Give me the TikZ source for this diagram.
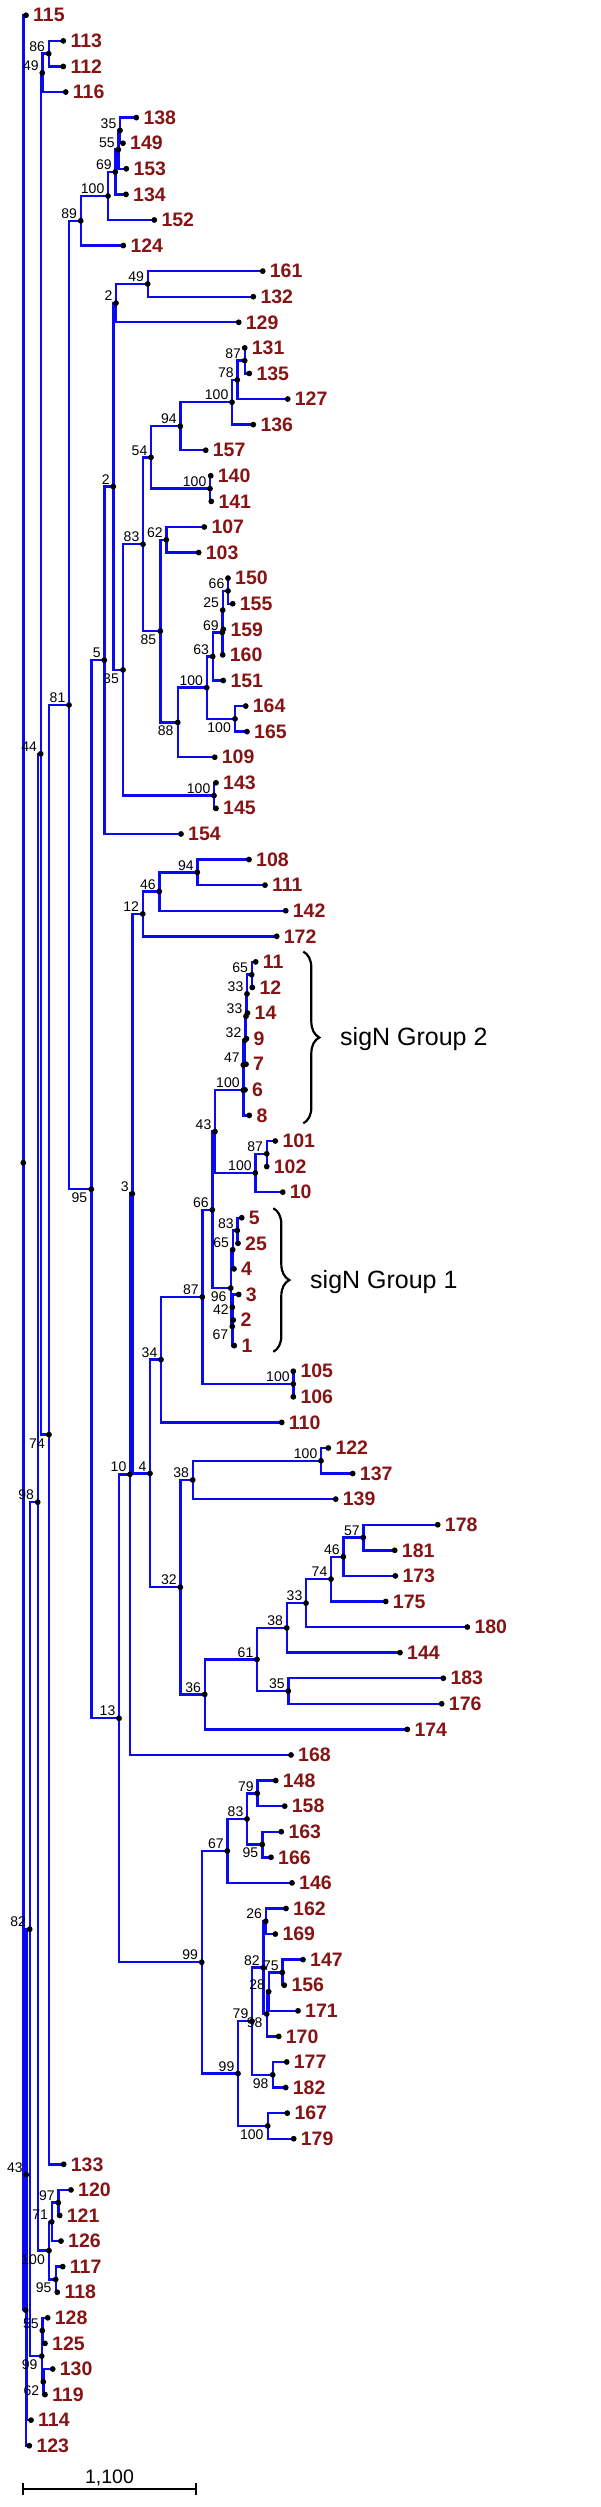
\documentclass[tikz,border=0pt]{standalone}
\usepackage{fontspec}
\setmainfont{Liberation Sans}
\usetikzlibrary{backgrounds,decorations.pathreplacing}
\definecolor{treeblue}{RGB}{10,10,240}
\definecolor{leafred}{RGB}{135,20,20}
\tikzset{
  branch/.style={draw=treeblue, line width=2.4pt},
  leafname/.style={anchor=west, inner sep=0pt, xshift=7pt, text=leafred, font=\bfseries\fontsize{19.5}{20}\selectfont},
  boot/.style={inner sep=0pt, font=\fontsize{14}{15}\selectfont},
  bootup/.style={boot, anchor=south east, xshift=-3.5pt, yshift=2pt},
  bootdown/.style={boot, anchor=north east, xshift=-4pt, yshift=-3.5pt},
  bootleft/.style={boot, anchor=east, xshift=-3.5pt, yshift=-2pt},
  groupbrace/.style={decorate, decoration={brace, amplitude=16pt}, line width=2.2pt},
  grouptext/.style={anchor=base west, inner sep=0pt, font=\fontsize{25}{26}\selectfont}
}
\begin{document}
\begin{tikzpicture}[x=1pt,y=-25.583pt]
\useasboundingbox (0,-0.598) rectangle (600,97.396);
% leaves: name / x / row
\foreach \n/\x/\i in {115/26/0, 113/63.3/1, 112/63.3/2, 116/65.7/3, 138/136.3/4, 149/123/5,
  153/126.3/6, 134/126/7, 152/154.3/8, 124/123.3/9, 161/262.7/10, 132/253.3/11, 129/238.7/12,
  131/244.7/13, 135/249.3/14, 127/287.7/15, 136/253.3/16, 157/205.7/17, 140/210.7/18,
  141/211.3/19, 107/204.3/20, 103/198.7/21, 150/228/22, 155/232.7/23, 159/223.3/24,
  160/222.7/25, 151/223.3/26, 164/245.7/27, 165/247/28, 109/214.7/29, 143/216/30, 145/216/31,
  154/181/32, 108/249/33, 111/265/34, 142/285.7/35, 172/276.7/36, 11/255.7/37, 12/252.3/38,
  14/247.5/39, 9/246.5/40, 7/246/41, 6/245/42, 8/249.3/43, 101/275.3/44, 102/266.7/45,
  10/282.7/46, 5/241.7/47, 25/238/48, 4/234/49, 3/238.7/50, 2/233.3/51, 1/234.3/52,
  105/293.3/53, 106/293.3/54, 110/281.7/55, 122/328.3/56, 137/352.7/57, 139/335.7/58,
  178/437.7/59, 181/394.7/60, 173/395.3/61, 175/385.7/62, 180/467.3/63, 144/400/64,
  183/443.3/65, 176/441.7/66, 174/407.3/67, 168/291/68, 148/275.7/69, 158/284.7/70,
  163/281.3/71, 166/271/72, 146/292/73, 162/286/74, 169/275.3/75, 147/303/76, 156/284.3/77,
  171/298/78, 170/278.7/79, 177/286.7/80, 182/285.7/81, 167/287.3/82, 179/293.7/83,
  133/63.7/84, 120/71/85, 121/59.7/86, 126/61/87, 117/62.7/88, 118/57.3/89, 128/47.7/90,
  125/45/91, 130/52.7/92, 119/45/93, 114/31/94, 123/29.3/95}{
  \coordinate (L\n) at (\x,\i);
  \fill (L\n) circle (2.9pt);
  \node[leafname] (T\n) at (L\n) {\n};
}
% inner nodes, support value above left
\foreach \n/\x/\y/\lab in {n86/48.7/1.5/86, n49a/42.3/2.25/49, n35a/120/4.5/35, n55a/118.3/5.25/55,
  n69a/115.3/6.125/69, n100a/108/7.0625/100, n89/80.7/8.031/89, n49b/147.7/10.5/49,
  n2a/116/11.25/2, n87a/244.7/13.5/87, n78/237.3/14.25/78, n100b/232/15.125/100,
  n94a/180.3/16.063/94, n100c/210/18.5/100, n54/151/17.281/54, n62a/166.3/20.5/62,
  n66a/228/22.5/66, n25/222.7/23.25/25, n69b/222.3/24.125/69, n63/212.7/25.063/63,
  n100e/206.7/26.281/100, n83a/143/20.676/83, n100f/214/30.5/100, n2b/113.3/18.419/2,
  n5/104.3/25.209/5, n94b/197.3/33.5/94, n46a/159.3/34.25/46, n12/142.7/35.125/12,
  n65a/251.7/37.5/65, n33a/247/38.25/33, n33b/246/39.125/33, n32a/245/40.063/32,
  n47/243.3/41.031/47, n100g/243.3/42.016/100, n87b/266.7/44.5/87, n100h/255.3/45.25/100,
  n43a/215/43.633/43, n83b/237.3/47.5/83, n65b/232.7/48.25/65, n66b/212.3/46.691/66,
  n100i/293.3/53.5/100, n87c/202.3/50.096/87, n34/161/52.548/34, n100j/321/56.5/100,
  n38a/192.7/57.25/38, n57/363.3/59.5/57, n46b/343.3/60.25/46, n74b/331/61.125/74,
  n33c/306/62.063/33, n38b/286.7/63.031/38, n35c/288.3/65.5/35, n61/257/64.266/61,
  n36/204.7/65.633/36, n32b/180.3/61.441/32, n4/150/56.995/4, n3/132.3/46.060/3,
  n10/130/57.030/10, n79a/257.3/69.5/79, n83c/247/70.5/83, n67b/227.3/71.75/67,
  n26/265.7/74.5/26, n75/282.3/76.5/75, n28/268.7/77.25/28, n82b/263.3/76.313/82,
  n79b/252/78.406/79, n99b/238/80.453/99, n99a/201.7/76.102/99, n13/119/66.566/13,
  n81/69/26.959/81, n44/40.7/28.865/44, n97/58.3/85.5/97, n71/51.7/86.25/71,
  n98/37.7/58.120/98, n55b/42.3/90.5/55, n82a/29.7/74.81/82, n43b/26.3/84.405/43}{
  \coordinate (\n) at (\x,\y);
  \fill (\n) circle (2.9pt);
  \node[bootup] (s\n) at (\n) {\lab};
}
% inner nodes, support value below left
\foreach \n/\x/\y/\lab in {n100d/235/27.5/100, n88/177.7/27.641/88, n85/160.3/24.070/85,
  n35b/123/25.588/35, n67/232.3/51.25/67, n96/230.7/49.75/96, n95a/262.3/71.5/95,
  n98a/266.7/78.125/98, n98b/272.7/80.5/98, n100k/267.7/82.5/100, n95b/91.3/45.888/95,
  n74a/49/55.480/74, n95c/55.7/88.5/95, n100l/49/87.375/100, n62b/43.3/92.5/62,
  n99c/41.7/91.5/99}{
  \coordinate (\n) at (\x,\y);
  \fill (\n) circle (2.9pt);
  \node[bootdown] (s\n) at (\n) {\lab};
}
\coordinate (n42) at (232.3,50.5);
\fill (n42) circle (2.9pt);
\node[bootleft] (sn42) at (n42) {42};
\coordinate (nA) at (25.7,89.703);
\fill (nA) circle (2.9pt);
\coordinate (root) at (23.3,44.851);
\fill (root) circle (2.9pt);
% branches
\begin{scope}[on background layer]
\foreach \pa/\ch in {root/L115, root/nA, nA/n43b, nA/L123, n43b/n82a, n43b/L114,
  n82a/n98, n82a/n99c, n99c/n55b, n99c/n62b, n55b/L128, n55b/L125, n62b/L130, n62b/L119,
  n98/n44, n98/n100l, n100l/n71, n100l/n95c, n71/n97, n71/L126, n97/L120, n97/L121,
  n95c/L117, n95c/L118, n44/n49a, n44/n74a, n49a/n86, n49a/L116, n86/L113, n86/L112,
  n74a/n81, n74a/L133, n81/n89, n81/n95b, n89/n100a, n89/L124, n100a/n69a, n100a/L152,
  n69a/n55a, n69a/L134, n55a/n35a, n55a/L153, n35a/L138, n35a/L149,
  n95b/n5, n95b/n13, n5/n2b, n5/L154, n2b/n2a, n2b/n35b, n2a/n49b, n2a/L129,
  n49b/L161, n49b/L132, n35b/n83a, n35b/n100f, n100f/L143, n100f/L145,
  n83a/n54, n83a/n85, n54/n94a, n54/n100c, n94a/n100b, n94a/L157, n100b/n78, n100b/L136,
  n78/n87a, n78/L127, n87a/L131, n87a/L135, n100c/L140, n100c/L141,
  n85/n62a, n85/n88, n62a/L107, n62a/L103, n88/n100e, n88/L109, n100e/n63, n100e/n100d,
  n63/n69b, n63/L151, n69b/n25, n69b/L160, n25/n66a, n25/L159, n66a/L150, n66a/L155,
  n100d/L164, n100d/L165, n13/n10, n13/n99a, n10/n3, n10/L168, n3/n12, n3/n4,
  n12/n46a, n12/L172, n46a/n94b, n46a/L142, n94b/L108, n94b/L111,
  n4/n34, n4/n32b, n34/n87c, n34/L110, n87c/n66b, n87c/n100i, n100i/L105, n100i/L106,
  n66b/n43a, n66b/n96, n43a/n100g, n43a/n100h, n100g/n47, n100g/L8, n47/n32a, n47/L6,
  n32a/n33b, n32a/L7, n33b/n33a, n33b/L9, n33a/n65a, n33a/L14, n65a/L11, n65a/L12,
  n100h/n87b, n100h/L10, n87b/L101, n87b/L102, n96/n65b, n96/n67, n65b/n83b, n65b/L4,
  n83b/L5, n83b/L25, n67/n42, n67/L1, n42/L3, n42/L2,
  n32b/n38a, n32b/n36, n38a/n100j, n38a/L139, n100j/L122, n100j/L137, n36/n61, n36/L174,
  n61/n38b, n61/n35c, n38b/n33c, n38b/L144, n33c/n74b, n33c/L180, n74b/n46b, n74b/L175,
  n46b/n57, n46b/L173, n57/L178, n57/L181, n35c/L183, n35c/L176,
  n99a/n67b, n99a/n99b, n67b/n83c, n67b/L146, n83c/n79a, n83c/n95a, n79a/L148, n79a/L158,
  n95a/L163, n95a/L166, n99b/n79b, n99b/n100k, n79b/n82b, n79b/n98b, n82b/n26, n82b/n98a,
  n26/L162, n26/L169, n98a/n28, n98a/L170, n28/n75, n28/L171, n75/L147, n75/L156,
  n98b/L177, n98b/L182, n100k/L167, n100k/L179}
  \draw[branch] (\pa) |- (\ch);
\end{scope}
% sigN groups
\draw[groupbrace] (303.3,36.6) -- (303.3,43.31);
\node[grouptext] (group2) at (340,40.25) {sigN Group 2};
\draw[groupbrace] (273.3,46.63) -- (273.3,52.24);
\node[grouptext] (group1) at (310,49.76) {sigN Group 1};
% scale bar
\coordinate (sbl) at (23.3,96.694);
\coordinate (sbr) at (195.7,96.694);
\draw[line width=2pt] (sbl) -- (sbr);
\draw[line width=2pt] (sbl) +(0pt,6pt) -- +(0pt,-6pt);
\draw[line width=2pt] (sbr) +(0pt,6pt) -- +(0pt,-6pt);
\node[anchor=base, inner sep=0pt, font=\fontsize{19.5}{20}\selectfont] (sbtext) at (109.5,96.47) {1,100};
\end{tikzpicture}
\end{document}
